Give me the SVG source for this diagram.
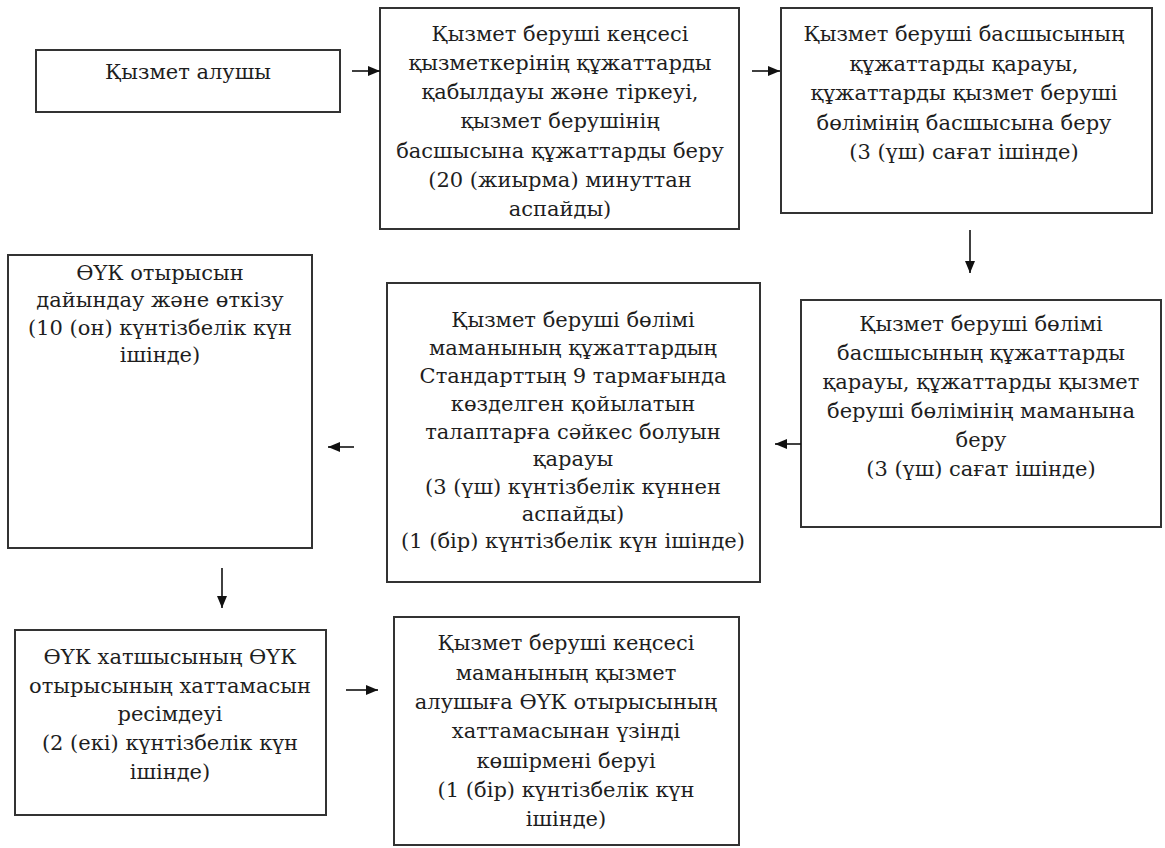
<svg xmlns="http://www.w3.org/2000/svg" width="1165" height="848" viewBox="0 0 1165 848">
<defs>
<style>
.box{fill:#fff;stroke:#333;stroke-width:2}
.t{font-size:21px;fill:#1e1e1e;text-anchor:middle}
.c{stroke:#111;stroke-width:1.6;fill:none;marker-end:url(#ah)}
</style>
<marker id="ah" markerUnits="userSpaceOnUse" markerWidth="12" markerHeight="10" refX="12" refY="5" orient="auto">
<path d="M0,0 L12,5 L0,10 Z" fill="#111"/>
</marker>
</defs>
<rect width="1165" height="848" fill="#fff"/>
<g id="n1">
<rect class="box" x="36" y="50" width="304" height="62"/>
<text class="t" font-family="DejaVu Serif" x="188" y="79">Қызмет алушы</text>
</g>
<g id="n2">
<rect class="box" x="380" y="8" width="359" height="221"/>
<text class="t" font-family="DejaVu Serif"><tspan x="560" y="41">Қызмет беруші кеңсесі</tspan><tspan x="560" y="70">қызметкерінің құжаттарды</tspan><tspan x="560" y="99">қабылдауы және тіркеуі,</tspan><tspan x="560" y="128">қызмет берушінің</tspan><tspan x="560" y="158">басшысына құжаттарды беру</tspan><tspan x="560" y="187">(20 (жиырма) минуттан</tspan><tspan x="560" y="216">аспайды)</tspan></text>
</g>
<g id="n3">
<rect class="box" x="781" y="8" width="371" height="205"/>
<text class="t" font-family="DejaVu Serif"><tspan x="964" y="41">Қызмет беруші басшысының</tspan><tspan x="964" y="71">құжаттарды қарауы,</tspan><tspan x="964" y="100">құжаттарды қызмет беруші</tspan><tspan x="964" y="130">бөлімінің басшысына беру</tspan><tspan x="964" y="159">(3 (үш) сағат ішінде)</tspan></text>
</g>
<g id="n4">
<rect class="box" x="801" y="300" width="360" height="227"/>
<text class="t" font-family="DejaVu Serif"><tspan x="981" y="331">Қызмет беруші бөлімі</tspan><tspan x="981" y="360">басшысының құжаттарды</tspan><tspan x="981" y="389">қарауы, құжаттарды қызмет</tspan><tspan x="981" y="418">беруші бөлімінің маманына</tspan><tspan x="981" y="447">беру</tspan><tspan x="981" y="476">(3 (үш) сағат ішінде)</tspan></text>
</g>
<g id="n5">
<rect class="box" x="387" y="283" width="373" height="299"/>
<text class="t" font-family="DejaVu Serif"><tspan x="573" y="327">Қызмет беруші бөлімі</tspan><tspan x="573" y="355">маманының құжаттардың</tspan><tspan x="573" y="383">Стандарттың 9 тармағында</tspan><tspan x="573" y="411">көзделген қойылатын</tspan><tspan x="573" y="439">талаптарға сәйкес болуын</tspan><tspan x="573" y="466">қарауы</tspan><tspan x="573" y="494">(3 (үш) күнтізбелік күннен</tspan><tspan x="573" y="521">аспайды)</tspan><tspan x="573" y="548">(1 (бір) күнтізбелік күн ішінде)</tspan></text>
</g>
<g id="n6">
<rect class="box" x="8" y="255" width="304" height="293"/>
<text class="t" font-family="DejaVu Serif"><tspan x="160" y="280">ӨҮК отырысын</tspan><tspan x="160" y="307">дайындау және өткізу</tspan><tspan x="160" y="335">(10 (он) күнтізбелік күн</tspan><tspan x="160" y="362">ішінде)</tspan></text>
</g>
<g id="n7">
<rect class="box" x="15" y="630" width="311" height="185"/>
<text class="t" font-family="DejaVu Serif"><tspan x="170" y="664">ӨҮК хатшысының ӨҮК</tspan><tspan x="170" y="693">отырысының хаттамасын</tspan><tspan x="170" y="721">ресімдеуі</tspan><tspan x="170" y="750">(2 (екі) күнтізбелік күн</tspan><tspan x="170" y="779">ішінде)</tspan></text>
</g>
<g id="n8">
<rect class="box" x="394" y="617" width="345" height="228"/>
<text class="t" font-family="DejaVu Serif"><tspan x="566" y="650">Қызмет беруші кеңсесі</tspan><tspan x="566" y="680">маманының қызмет</tspan><tspan x="566" y="709">алушыға ӨҮК отырысының</tspan><tspan x="566" y="738">хаттамасынан үзінді</tspan><tspan x="566" y="768">көшірмені беруі</tspan><tspan x="566" y="797">(1 (бір) күнтізбелік күн</tspan><tspan x="566" y="826">ішінде)</tspan></text>
</g>
<g id="connectors">
<line class="c" x1="352" y1="71" x2="380" y2="71"/>
<line class="c" x1="752" y1="71" x2="780" y2="71"/>
<line class="c" x1="970" y1="230" x2="970" y2="273"/>
<line class="c" x1="801" y1="444" x2="775" y2="444"/>
<line class="c" x1="354" y1="447" x2="328" y2="447"/>
<line class="c" x1="222" y1="568" x2="222" y2="608"/>
<line class="c" x1="346" y1="690" x2="378" y2="690"/>
</g>
</svg>
